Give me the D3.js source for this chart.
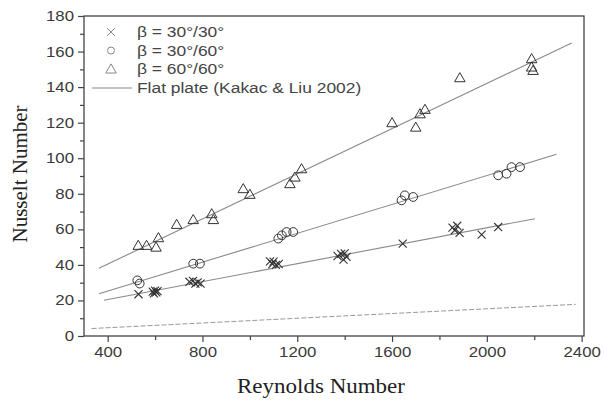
<!DOCTYPE html>
<html><head><meta charset="utf-8">
<script src="https://cdn.jsdelivr.net/npm/d3@7"></script>
<style>body{margin:0;background:#fff}svg{display:block}</style>
</head><body>
<svg id="chart" width="604" height="403"></svg>
<script>
// ---- data ----
const xTicks = [400, 800, 1200, 1600, 2000, 2400];
const yTicks = [0, 20, 40, 60, 80, 100, 120, 140, 160, 180];

const crosses = [[530,23.5],[590,25],[595,24],[600,25.5],[605,24.5],[610,25.2],
  [745,30.5],[760,31],[770,29.5],[780,30.2],[792,29.5],
  [1085,42],[1095,40.5],[1100,41.8],[1110,40],[1122,40.5],
  [1370,45],[1385,46.2],[1395,43],[1400,46.5],[1408,44.5],
  [1645,52],[1855,61],[1865,59.5],[1875,62],[1885,58],[1978,57],[2048,61.3]];
const circles = [[525,31.3],[535,29.5],[761,40.7],[789,40.7],[1120,54.8],[1135,56.6],
  [1155,58.5],[1183,58.5],[1640,76.3],[1654,79.1],[1689,78.2],
  [2048,90.4],[2083,91.3],[2104,95],[2140,95]];
const triangles = [[529,51],[564,51],[604,50],[614,55.3],[691,62.8],[761,65.5],
  [839,68.8],[846,65.5],[972,82.9],[1000,79.7],[1169,85.7],[1190,89.4],[1218,94.1],
  [1600,120],[1700,117.5],[1718,125],[1739,127.5],[1886,145.3],
  [2189,156],[2189,151.3],[2195,149.4]];
const fitCross = [[384,20.1],[2203,66]];
const fitCircle = [[363,23.8],[2294,102.2]];
const fitTriangle = [[363,38.1],[2358,164.8]];
const flatPlate = [[332,4.2],[2375,17.8]];

const legendLabels = ["\u03b2 = 30\u00b0/30\u00b0","\u03b2 = 30\u00b0/60\u00b0","\u03b2 = 60\u00b0/60\u00b0","Flat plate (Kakac & Liu 2002)"];

// ---- drawing ----
const svg = d3.select("#chart");
const x = d3.scaleLinear().domain([300, 2410]).range([84, 584]);
const y = d3.scaleLinear().domain([0, 180]).range([336, 16]);
const ink = "#333", lineC = "#8a8a8a";
const SX = 1.2; // horizontal stretch of the reference text

// fit lines
const line = d3.line().x(d=>x(d[0])).y(d=>y(d[1]));
[fitCross, fitCircle, fitTriangle].forEach(f=>{
  svg.append("path").attr("d", line(f)).attr("fill","none").attr("stroke",lineC).attr("stroke-width",1.1);
});
svg.append("path").attr("d", line(flatPlate)).attr("fill","none").attr("stroke","#999")
  .attr("stroke-width",1).attr("stroke-dasharray","5,2");

// markers
const tri = d3.symbol().type(d3.symbolTriangle).size(48);
svg.append("g").selectAll("path").data(triangles).join("path")
  .attr("d", tri).attr("transform", d=>`translate(${x(d[0])},${y(d[1])+1})`)
  .attr("fill","none").attr("stroke",ink).attr("stroke-width",1);
svg.append("g").selectAll("circle").data(circles).join("circle")
  .attr("cx", d=>x(d[0])).attr("cy", d=>y(d[1])).attr("r",4.4)
  .attr("fill","none").attr("stroke",ink).attr("stroke-width",1);
const cr = d3.symbol().type(d3.symbolX).size(44);
svg.append("g").selectAll("path").data(crosses).join("path")
  .attr("d", cr).attr("transform", d=>`translate(${x(d[0])},${y(d[1])})`)
  .attr("fill","none").attr("stroke",ink).attr("stroke-width",1.1);

// frame
svg.append("rect").attr("x",84).attr("y",16).attr("width",500).attr("height",320)
  .attr("fill","none").attr("stroke","#444").attr("stroke-width",1.3);

// axes
const xAxis = d3.axisBottom(x).tickValues(xTicks).tickSize(6).tickPadding(5).tickFormat(d3.format("d"));
svg.append("g").attr("transform","translate(0,336)").call(xAxis);
const xMinor = d3.axisBottom(x).tickValues([600,1000,1400,1800,2200]).tickSize(4).tickFormat("");
svg.append("g").attr("transform","translate(0,336)").call(xMinor);
const yAxis = d3.axisLeft(y).tickValues(yTicks).tickSize(6).tickPadding(4);
const gy = svg.append("g").attr("transform","translate(84,0)").call(yAxis);
const yMinor = d3.axisLeft(y).tickValues(d3.range(10,180,20)).tickSize(4).tickFormat("");
svg.append("g").attr("transform","translate(84,0)").call(yMinor);
svg.selectAll(".domain").remove();
svg.selectAll(".tick line").attr("stroke","#444").attr("stroke-width",1.2);
svg.selectAll(".tick text").attr("font-family","Liberation Sans, Arial, sans-serif")
  .attr("font-size",14).attr("fill","#3a3a3a").attr("transform",`scale(${SX},1)`);
gy.selectAll(".tick text").attr("x", -10/SX);

// axis titles
svg.append("text").attr("transform",`translate(321,393) scale(1.15,1)`).attr("text-anchor","middle")
  .attr("font-family","Liberation Serif, Times New Roman, serif").attr("font-size",20).attr("fill","#222")
  .text("Reynolds Number");
svg.append("text").attr("transform","translate(27,174) rotate(-90)").attr("text-anchor","middle")
  .attr("font-family","Liberation Serif, Times New Roman, serif").attr("font-size",21).attr("fill","#222")
  .text("Nusselt Number");

// legend
const lg = svg.append("g");
const rows = [32, 50.5, 69, 88];
lg.append("path").attr("d", cr()).attr("transform",`translate(111,${rows[0]})`).attr("fill","none").attr("stroke","#888");
lg.append("circle").attr("cx",111).attr("cy",rows[1]).attr("r",3.5).attr("fill","none").attr("stroke","#888");
lg.append("path").attr("d", tri()).attr("transform",`translate(111,${rows[2]+1})`).attr("fill","none").attr("stroke","#888");
lg.append("line").attr("x1",92).attr("x2",132).attr("y1",rows[3]).attr("y2",rows[3]).attr("stroke","#888");
lg.selectAll("text").data(legendLabels).join("text")
  .attr("transform",(d,i)=>`translate(137,${rows[i]+5}) scale(${SX},1)`)
  .attr("font-family","Liberation Sans, Arial, sans-serif").attr("font-size",14.5).attr("fill","#444")
  .text(d=>d);
</script>
</body></html>
